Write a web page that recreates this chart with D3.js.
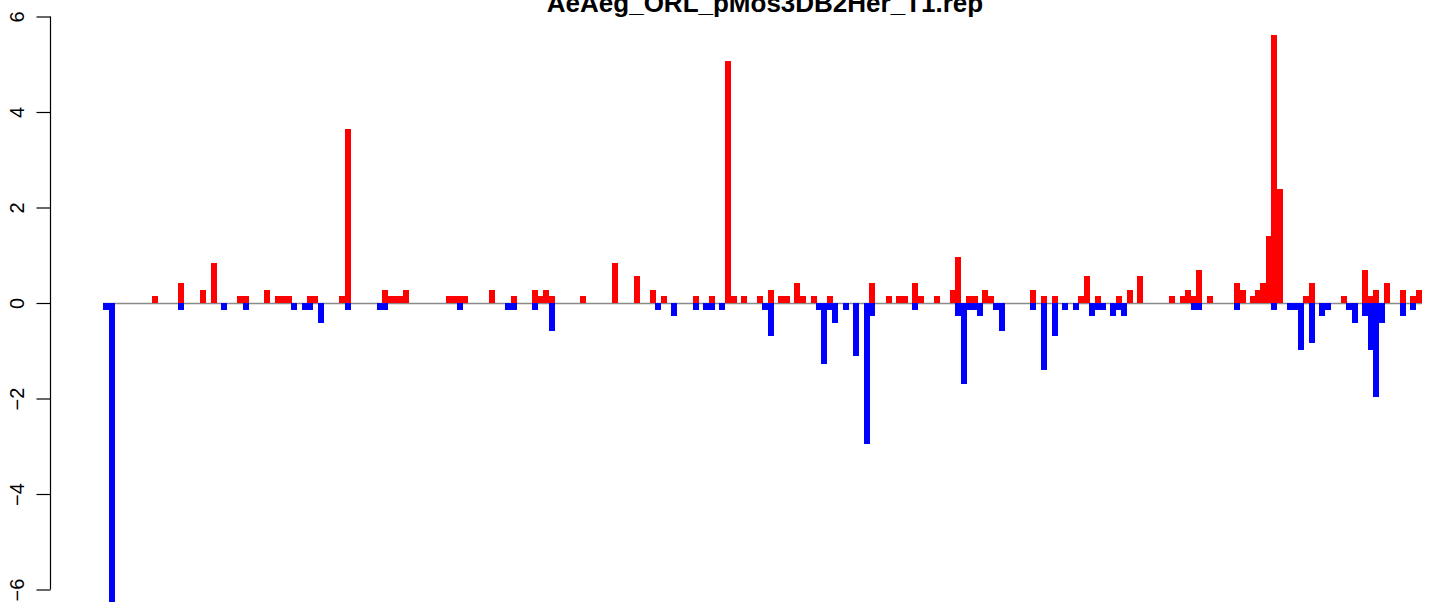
<!DOCTYPE html>
<html>
<head>
<meta charset="utf-8">
<script src="https://cdn.jsdelivr.net/npm/d3@7"></script>
<style>
  html, body { margin: 0; padding: 0; background: #fff; }
  svg { display: block; }
</style>
</head>
<body>
<svg id="chart" width="1429" height="602"></svg>
<script>
// ---- data ----
const title = "AeAeg_ORL_pMos3DB2Her_T1.rep";
const yTicks = [-6, -4, -2, 0, 2, 4, 6];

// bin positions (arbitrary position units along the sequence)
const positions = [
  0, 6, 49, 75, 97, 108, 118, 134, 140, 161, 172, 178, 183, 188, 199, 204, 209, 215,
  236, 242, 274, 279, 285, 290, 295, 300, 343, 348, 354, 359, 386, 402, 408, 429, 435, 440, 446,
  477, 509, 531, 547, 552, 558, 568, 590, 600, 606, 616, 622, 628, 638, 654, 659, 665, 675, 681, 691, 697,
  708, 713, 718, 724, 729, 740, 750, 761, 766, 783, 793, 799, 809, 815, 831, 847, 852, 858, 863, 869, 874,
  879, 885, 890, 896, 927,
  938, 949, 959, 970, 975, 981, 986, 992, 997, 1007, 1013, 1018, 1024, 1034, 1066, 1077, 1082, 1088, 1093,
  1104, 1131, 1137, 1147, 1152, 1157, 1163, 1168, 1174, 1184, 1190, 1195, 1200, 1206, 1216, 1222, 1238,
  1243, 1249, 1259, 1265, 1270, 1276, 1281, 1297, 1307, 1313
];
// plus-strand values (drawn upward, red)
const plusValues = [
  0, 0, 0.14, 0.42, 0.28, 0.84, 0, 0.14, 0.14, 0.28, 0.14, 0.14, 0.14, 0, 0, 0.14, 0.14, 0,
  0.14, 3.65, 0, 0.28, 0.14, 0.14, 0.14, 0.28, 0.14, 0.14, 0.14, 0.14, 0.28, 0, 0.14, 0.28, 0.14, 0.28, 0.14,
  0.14, 0.84, 0.56, 0.28, 0, 0.14, 0, 0.14, 0, 0.14, 0, 5.06, 0.14, 0.14, 0.14, 0, 0.28, 0.14, 0.14, 0.42, 0.14,
  0.14, 0, 0, 0.14, 0, 0, 0, 0, 0.42, 0.14, 0.14, 0.14, 0.42, 0.14, 0.14, 0.28, 0.97, 0, 0.14, 0.14, 0,
  0.28, 0.14, 0, 0, 0.28,
  0.14, 0.14, 0, 0, 0.14, 0.56, 0, 0.14, 0, 0, 0.14, 0, 0.28, 0.56, 0.14, 0.14, 0.28, 0.14, 0.70,
  0.14, 0.42, 0.28, 0.14, 0.28, 0.42, 1.41, 5.62, 2.39, 0, 0, 0, 0.14, 0.42, 0, 0, 0.14,
  0, 0, 0.70, 0.14, 0.28, 0, 0.42, 0.28, 0.14, 0.28
];
// minus-strand values (drawn downward, blue)
const minusValues = [
  -0.14, -6.32, 0, -0.14, 0, 0, -0.14, 0, -0.14, 0, 0, 0, 0, -0.14, -0.14, -0.14, 0, -0.42,
  0, -0.14, -0.14, -0.14, 0, 0, 0, 0, 0, 0, -0.14, 0, 0, -0.14, -0.14, -0.14, 0, 0, -0.58,
  0, 0, 0, 0, -0.14, 0, -0.28, -0.14, -0.14, -0.14, -0.14, 0, 0, 0, 0, -0.14, -0.70, 0, 0, 0, 0,
  0, -0.14, -1.28, -0.14, -0.42, -0.14, -1.12, -2.95, -0.28, 0, 0, 0, -0.14, 0, 0, 0, -0.28, -1.69, -0.14, -0.14, -0.28,
  0, 0, -0.14, -0.58, -0.14,
  -1.41, -0.70, -0.14, -0.14, 0, 0, -0.28, -0.14, -0.14, -0.28, -0.14, -0.28, 0, 0, 0, 0, 0, -0.14, -0.14,
  0, -0.14, 0, 0, 0, 0, 0, -0.14, 0, -0.14, -0.14, -0.98, 0, -0.84, -0.28, -0.14, 0,
  -0.14, -0.42, -0.28, -0.98, -1.97, -0.42, 0, -0.28, -0.14, 0
];

// ---- layout ----
const svg = d3.select("#chart");
const axisX = 50.5;
const firstBarLeft = 103, lastBarLeft = 1416;
const barW = 6;

const x = d3.scaleLinear().domain(d3.extent(positions)).range([firstBarLeft, lastBarLeft]);
const y = d3.scaleLinear().domain([-6, 6]).range([589.5, 16.5]);

const rows = positions.map((p, i) => ({p, up: plusValues[i], down: minusValues[i]}));

// baseline
const ext = d3.extent(positions);
svg.append("line")
  .attr("x1", x(ext[0])).attr("x2", x(ext[1]) + barW)
  .attr("y1", y(0) + 0.5).attr("y2", y(0) + 0.5)
  .attr("stroke", "#8a8a8a").attr("stroke-width", 1.3);

const bars = svg.append("g").attr("shape-rendering", "crispEdges");
bars.selectAll("rect.up").data(rows.filter(d => d.up > 0)).join("rect")
  .attr("class", "up")
  .attr("x", d => Math.round(x(d.p)))
  .attr("width", barW)
  .attr("y", d => y(d.up))
  .attr("height", d => y(0) - y(d.up))
  .attr("fill", "#ff0000");
bars.selectAll("rect.down").data(rows.filter(d => d.down < 0)).join("rect")
  .attr("class", "down")
  .attr("x", d => Math.round(x(d.p)))
  .attr("width", barW)
  .attr("y", y(0))
  .attr("height", d => y(d.down) - y(0))
  .attr("fill", "#0000ff");

// y axis
const axis = svg.append("g").attr("transform", `translate(${axisX},0)`)
  .call(d3.axisLeft(y).tickValues(yTicks).tickSize(14).tickPadding(13).tickFormat(d3.format("d")));
axis.select(".domain").attr("d", `M0,${y(-6)}V${y(6)}`).attr("stroke", "#000").attr("stroke-width", 1.2);
axis.selectAll(".tick line").attr("stroke", "#000").attr("stroke-width", 1.2);
axis.selectAll(".tick text")
  .attr("font-family", "'Liberation Sans', Arial, sans-serif")
  .attr("font-size", 20)
  .attr("fill", "#000")
  .attr("text-anchor", "middle")
  .attr("dy", null)
  .attr("x", null)
  .attr("transform", `translate(${23.5 - axisX},0) rotate(-90)`);

// title
svg.append("text")
  .attr("x", 765).attr("y", 12)
  .attr("text-anchor", "middle")
  .attr("font-family", "'Liberation Sans', Arial, sans-serif")
  .attr("font-weight", "bold")
  .attr("font-size", 26)
  .attr("fill", "#000")
  .text(title);
</script>
</body>
</html>
